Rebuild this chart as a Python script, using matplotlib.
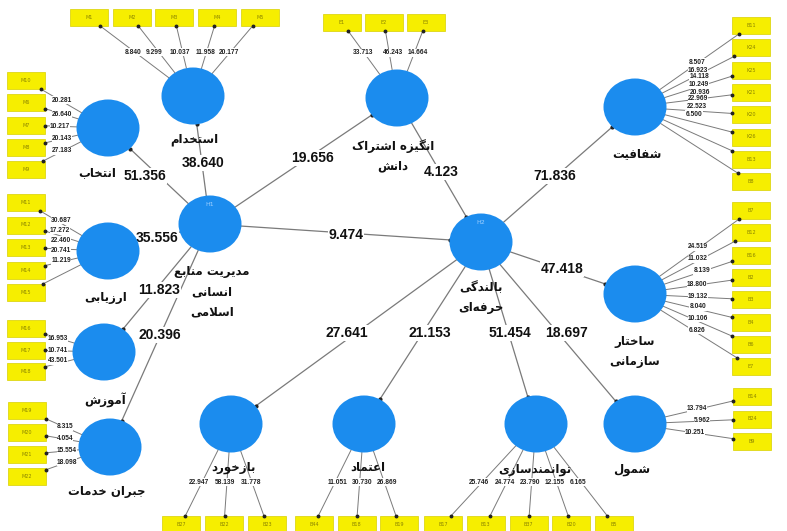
import numpy as np
import matplotlib.pyplot as plt
from matplotlib.patches import Ellipse, Rectangle

# ---- data: bootstrap t-values ----
path_from = ['hrm', 'hrm', 'hrm', 'hrm', 'hrm', 'hrm', 'hrm', 'mot',
             'dev', 'dev', 'dev', 'dev', 'dev', 'dev']
path_to = ['sel', 'hir', 'eva', 'tra', 'com', 'mot', 'dev', 'dev',
           'tsp', 'str', 'fbk', 'tru', 'emp', 'inc']
path_values = [51.356, 38.640, 35.556, 11.823, 20.396, 19.656, 9.474, 4.123,
               71.836, 47.418, 27.641, 21.153, 51.454, 18.697]

hir_items = ['M1', 'M2', 'M3', 'M4', 'M5']
hir_load = [8.840, 9.299, 10.037, 11.958, 20.177]
sel_items = ['M10', 'M6', 'M7', 'M8', 'M9']
sel_load = [20.281, 26.640, 10.217, 20.143, 27.183]
eva_items = ['M11', 'M12', 'M13', 'M14', 'M15']
eva_load = [30.687, 17.272, 22.460, 20.741, 11.219]
tra_items = ['M16', 'M17', 'M18']
tra_load = [16.953, 10.741, 43.501]
com_items = ['M19', 'M20', 'M21', 'M22']
com_load = [8.315, 4.054, 15.554, 18.098]
mot_items = ['E1', 'E2', 'E3']
mot_load = [33.713, 46.243, 14.664]
tsp_items = ['B11', 'K24', 'K25', 'K21', 'K20', 'K26', 'B13', 'B8']
tsp_load = [8.507, 16.923, 14.118, 10.249, 20.936, 22.969, 22.523, 6.500]
str_items = ['B7', 'B12', 'B16', 'B2', 'B3', 'B4', 'B6', 'E7']
str_load = [24.519, 11.032, 8.139, 18.800, 19.132, 8.040, 10.106, 6.826]
inc_items = ['B14', 'B24', 'B9']
inc_load = [13.794, 5.962, 10.251]
fbk_items = ['B27', 'B22', 'B23']
fbk_load = [22.947, 58.139, 31.778]
tru_items = ['B44', 'B18', 'B19']
tru_load = [11.051, 30.730, 26.869]
emp_items = ['B17', 'B13', 'B37', 'B20', 'B5']
emp_load = [25.746, 24.774, 23.790, 12.155, 6.165]

names = {
    'hrm': ['مدیریت منابع', 'انسانی', 'اسلامی'],
    'sel': ['انتخاب'], 'hir': ['استخدام'], 'eva': ['ارزیابی'],
    'tra': ['آموزش'], 'com': ['جبران خدمات'],
    'mot': ['انگیزه اشتراک', 'دانش'],
    'dev': ['بالندگی', 'حرفه‌ای'],
    'tsp': ['شفافیت'], 'str': ['ساختار', 'سازمانی'],
    'fbk': ['بازخورد'], 'tru': ['اعتماد'], 'emp': ['توانمندسازی'],
    'inc': ['شمول'],
}

# ---- minimal Persian shaping (presentation forms, right to left) ----
FORMS = {
    'ا': ('\uFE8D', '\uFE8E', None, None), 'آ': ('\uFE81', '\uFE82', None, None),
    'ب': ('\uFE8F', '\uFE90', '\uFE91', '\uFE92'), 'ت': ('\uFE95', '\uFE96', '\uFE97', '\uFE98'),
    'ج': ('\uFE9D', '\uFE9E', '\uFE9F', '\uFEA0'), 'ح': ('\uFEA1', '\uFEA2', '\uFEA3', '\uFEA4'),
    'خ': ('\uFEA5', '\uFEA6', '\uFEA7', '\uFEA8'), 'د': ('\uFEA9', '\uFEAA', None, None),
    'ر': ('\uFEAD', '\uFEAE', None, None), 'ز': ('\uFEAF', '\uFEB0', None, None),
    'س': ('\uFEB1', '\uFEB2', '\uFEB3', '\uFEB4'), 'ش': ('\uFEB5', '\uFEB6', '\uFEB7', '\uFEB8'),
    'ع': ('\uFEC9', '\uFECA', '\uFECB', '\uFECC'), 'ف': ('\uFED1', '\uFED2', '\uFED3', '\uFED4'),
    'ک': ('\uFB8E', '\uFB8F', '\uFB90', '\uFB91'), 'گ': ('\uFB92', '\uFB93', '\uFB94', '\uFB95'),
    'ل': ('\uFEDD', '\uFEDE', '\uFEDF', '\uFEE0'), 'م': ('\uFEE1', '\uFEE2', '\uFEE3', '\uFEE4'),
    'ن': ('\uFEE5', '\uFEE6', '\uFEE7', '\uFEE8'), 'و': ('\uFEED', '\uFEEE', None, None),
    'ه': ('\uFEE9', '\uFEEA', '\uFEEB', '\uFEEC'), 'ی': ('\uFBFC', '\uFBFD', '\uFBFE', '\uFBFF'),
}


def shape(word):
    out, prev, i = [], False, 0
    while i < len(word):
        c = word[i]
        if c not in FORMS:
            if c != '\u200c':
                out.append(c)
            prev = False
            i += 1
            continue
        if c == 'ل' and i + 1 < len(word) and word[i + 1] == 'ا':
            out.append('\uFEFC' if prev else '\uFEFB')
            prev = False
            i += 2
            continue
        iso, fin, ini, med = FORMS[c]
        nxt = word[i + 1] if i + 1 < len(word) else ''
        joins = ini is not None and nxt in FORMS
        out.append(med if prev and joins else fin if prev else ini if joins else iso)
        prev = joins
        i += 1
    return ''.join(reversed(out))


# ---- layout (pixel coordinates) ----
node_xy = {'hir': (193, 96), 'sel': (108, 128), 'mot': (397, 98), 'tsp': (635, 107),
           'hrm': (210, 224), 'eva': (108, 251), 'dev': (481, 242), 'str': (635, 294),
           'tra': (104, 352), 'com': (110, 447), 'fbk': (231, 424), 'tru': (364, 424),
           'emp': (536, 424), 'inc': (635, 424)}
name_xy = {'hir': (194, 140), 'sel': (97, 173), 'mot': (393, 146), 'tsp': (637, 154),
           'hrm': (212, 272), 'eva': (106, 298), 'dev': (481, 288), 'str': (635, 341),
           'tra': (105, 400), 'com': (107, 492), 'fbk': (233, 467), 'tru': (368, 467),
           'emp': (535, 469), 'inc': (632, 469)}
path_lab_xy = [(145, 176), (203, 163), (157, 238), (159, 290), (160, 335), (313, 158),
               (346, 235), (441, 172), (555, 176), (562, 269), (347, 333), (430, 333),
               (510, 333), (566, 333)]
RX, RY = 31.5, 28.5
BW, BH = 38, 17

# indicator groups: construct, items, loadings, box origins, loading label spots
groups = [
    ('hir', hir_items, hir_load, [(70 + 42.7 * k, 9) for k in range(5)],
     [(133, 52), (154, 52), (180, 52), (206, 52), (229, 52)]),
    ('sel', sel_items, sel_load, [(7, 72 + 22.3 * k) for k in range(5)],
     [(62, 100), (62, 114), (60, 127), (62, 138), (62, 151)]),
    ('eva', eva_items, eva_load, [(7, 194 + 22.5 * k) for k in range(5)],
     [(61, 220), (60, 230), (61, 240), (61, 250), (61, 261)]),
    ('tra', tra_items, tra_load, [(7, 320 + 21.5 * k) for k in range(3)],
     [(58, 339), (58, 350), (58, 361)]),
    ('com', com_items, com_load, [(8, 402 + 22 * k) for k in range(4)],
     [(65, 427), (65, 438), (67, 451), (67, 462)]),
    ('mot', mot_items, mot_load, [(323 + 42 * k, 14) for k in range(3)],
     [(363, 53), (393, 53), (418, 53)]),
    ('tsp', tsp_items, tsp_load, [(732, 17 + 22.3 * k) for k in range(8)],
     [(697, 62), (698, 70), (699, 77), (699, 85), (700, 92), (698, 99), (697, 107), (694, 114)]),
    ('str', str_items, str_load, [(732, 202 + 22.3 * k) for k in range(8)],
     [(698, 247), (698, 259), (702, 271), (697, 284), (698, 297), (698, 307), (698, 318), (697, 330)]),
    ('inc', inc_items, inc_load, [(733, 388 + 22.5 * k) for k in range(3)],
     [(697, 409), (702, 421), (695, 432)]),
    ('fbk', fbk_items, fbk_load, [(162 + 43 * k, 516) for k in range(3)],
     [(199, 482), (225, 482), (251, 482)]),
    ('tru', tru_items, tru_load, [(295 + 42.5 * k, 516) for k in range(3)],
     [(337, 482), (362, 482), (387, 482)]),
    ('emp', emp_items, emp_load, [(424 + 42.75 * k, 516) for k in range(5)],
     [(479, 482), (505, 482), (530, 482), (555, 482), (578, 482)]),
]

BLUE = '#1b8cee'
YELLOW = '#f6ee00'
LINE = '#7a7a7a'
NUM_FONT = ['Liberation Sans', 'DejaVu Sans']


def rim(c, toward):
    dx, dy = toward[0] - c[0], toward[1] - c[1]
    t = 1 / np.sqrt((dx / RX) ** 2 + (dy / RY) ** 2)
    return c[0] + dx * t, c[1] + dy * t


def box_edge(x0, y0, toward):
    cx, cy = x0 + BW / 2, y0 + BH / 2
    dx, dy = toward[0] - cx, toward[1] - cy
    tx = (BW / 2) / abs(dx) if dx else np.inf
    ty = (BH / 2) / abs(dy) if dy else np.inf
    t = min(tx, ty)
    return cx + dx * t, cy + dy * t


fig = plt.figure(figsize=(7.87, 5.31), dpi=100)
ax = fig.add_axes([0, 0, 1, 1])
ax.set_xlim(0, 787)
ax.set_ylim(531, 0)
ax.axis('off')

# structural paths
for src, dst, val, (lx, ly) in zip(path_from, path_to, path_values, path_lab_xy):
    a, b = node_xy[src], node_xy[dst]
    p0, p1 = rim(a, b), rim(b, a)
    ax.plot([p0[0], p1[0]], [p0[1], p1[1]], color=LINE, lw=0.9, zorder=1)
    ax.plot(p1[0], p1[1], 'o', color='#222222', ms=2, zorder=3)
    ax.text(lx, ly, f'{val:.3f}', ha='center', va='center', fontsize=10,
            fontweight='bold', family=NUM_FONT, color='#111111', zorder=4,
            bbox=dict(facecolor='white', edgecolor='none', pad=0.5))

# measurement model
for key, items, loads, origins, spots in groups:
    c = node_xy[key]
    for item, val, (x0, y0), (lx, ly) in zip(items, loads, origins, spots):
        ex, ey = box_edge(x0, y0, c)
        sx, sy = rim(c, (ex, ey))
        ax.plot([sx, ex], [sy, ey], color=LINE, lw=0.7, zorder=1)
        ax.plot(ex, ey, 'o', color='#222222', ms=1.8, zorder=3)
        ax.add_patch(Rectangle((x0, y0), BW, BH, facecolor=YELLOW,
                               edgecolor='#d8d000', lw=0.5, zorder=2))
        ax.text(x0 + BW / 2, y0 + BH / 2, item, ha='center', va='center',
                fontsize=3.5, color='#8a8400', zorder=3)
        ax.text(lx, ly, f'{val:.3f}', ha='center', va='center', fontsize=4.8,
                fontweight='bold', family=NUM_FONT, color='#222222', zorder=4,
                bbox=dict(facecolor='white', edgecolor='none', pad=0.1))

# latent variables
for key, (x, y) in node_xy.items():
    ax.add_patch(Ellipse((x, y), 2 * RX, 2 * RY, facecolor=BLUE,
                         edgecolor='none', zorder=5))
    lx, ly = name_xy[key]
    for k, line in enumerate(names[key]):
        ax.text(lx, ly + k * 20, shape(line), ha='center', va='center',
                fontsize=8.5, fontweight='bold', family='DejaVu Sans',
                color='#111111', zorder=6)

ax.text(210, 204, 'H1', ha='center', va='center', fontsize=4.5, color='#9fd0ff', zorder=6)
ax.text(481, 222, 'H2', ha='center', va='center', fontsize=4.5, color='#9fd0ff', zorder=6)

fig.savefig('out.png', dpi=100)
